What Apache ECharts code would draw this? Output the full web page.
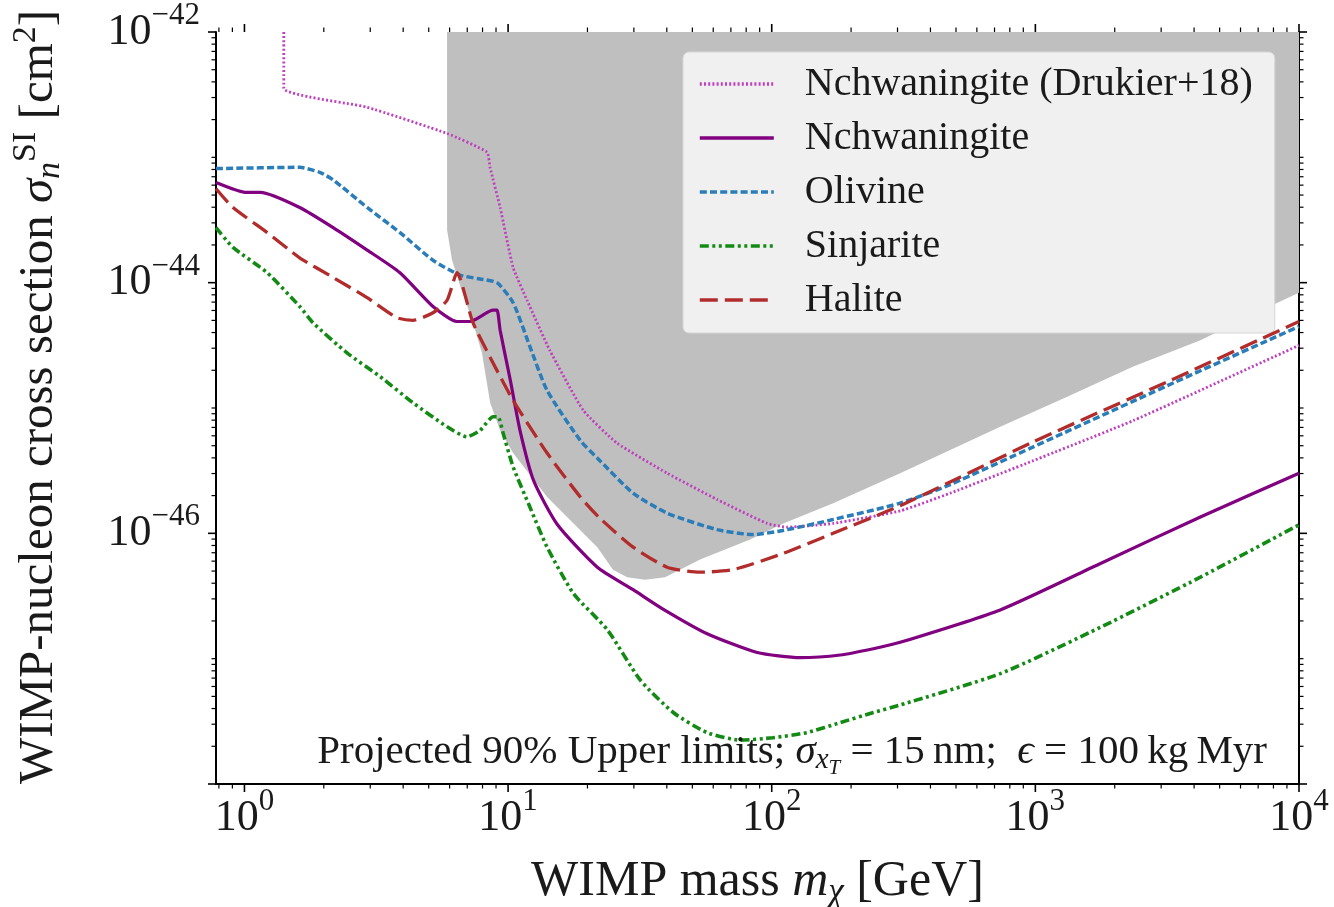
<!DOCTYPE html>
<html>
<head>
<meta charset="utf-8">
<script src="https://cdn.jsdelivr.net/npm/echarts/dist/echarts.min.js"></script>
<style>html,body{margin:0;padding:0;background:#fff}#c{width:1334px;height:907px}</style>
</head>
<body>
<div id="c"></div>
<script>
// ---------------- data ----------------
const xMin = 0.78, xMax = 10000;
const yMin = 1e-48, yMax = 1e-42;
const xMajorTicks = [1, 10, 100, 1000, 10000];
const yMajorTicks = [1e-48, 1e-46, 1e-44, 1e-42];

const seriesNames = ['Nchwaningite (Drukier+18)', 'Nchwaningite', 'Olivine', 'Sinjarite', 'Halite'];

// grey excluded region (lower boundary; filled up to the top of the plot)
const greyMass  = [5.87, 5.87, 6.13, 6.57, 7.36, 7.96, 8.55, 9.33, 10.45, 14.06, 21.8, 25.0, 28.3, 33.1, 39.4, 53.5, 82.8, 110.6, 171, 307, 736, 1321, 2353, 4227, 8280, 10000];
const greySigma = [1e-42, 2.63e-44, 1.51e-44, 9.55e-45, 4.79e-45, 2.75e-45, 1.10e-45, 6.61e-46, 4.37e-46, 1.95e-46, 7.76e-47, 5.13e-47, 4.47e-47, 4.27e-47, 4.47e-47, 6.17e-47, 8.91e-47, 1.20e-46, 1.74e-46, 3.02e-46, 7.08e-46, 1.23e-45, 2.14e-45, 3.47e-45, 6.92e-45, 8.32e-45];

const drukMass  = [1.41, 1.41, 2.92, 5.87, 8.32, 8.54, 9.33, 10.45, 11.8, 14.4, 19.3, 25.9, 40.1, 62.1, 96.1, 114.6, 171, 307, 475, 982, 2353, 10000];
const drukSigma = [1e-42, 3.55e-43, 2.51e-43, 1.55e-43, 1.10e-43, 8.32e-44, 3.98e-44, 1.32e-44, 7.24e-45, 2.88e-45, 9.55e-46, 5.25e-46, 3.02e-46, 1.86e-46, 1.20e-46, 1.12e-46, 1.20e-46, 1.51e-46, 2.09e-46, 3.80e-46, 7.94e-46, 3.16e-45];

const nchMass  = [0.78, 1.02, 1.15, 1.62, 2.17, 2.92, 3.89, 5.19, 6.40, 7.17, 8.77, 9.08, 9.33, 10.2, 11.1, 12.5, 15.4, 21.8, 29.8, 38.4, 56.9, 88.1, 128, 182, 243, 307, 736, 1766, 4227, 10000];
const nchSigma = [6.31e-44, 5.25e-44, 5.25e-44, 3.98e-44, 2.75e-44, 1.82e-44, 1.20e-44, 6.46e-45, 4.90e-45, 4.90e-45, 6.03e-45, 6.03e-45, 4.17e-45, 1.66e-45, 6.61e-46, 2.63e-46, 1.17e-46, 5.37e-47, 3.55e-47, 2.51e-47, 1.58e-47, 1.12e-47, 1.02e-47, 1.07e-47, 1.20e-47, 1.35e-47, 2.45e-47, 5.75e-47, 1.35e-46, 3.02e-46];

const olivMass  = [0.78, 1.62, 1.93, 2.17, 2.92, 3.89, 5.19, 6.57, 7.83, 9.08, 10.45, 12.1, 14.06, 18.8, 22.3, 29.8, 40.1, 62.1, 85.1, 114.6, 171, 307, 475, 982, 3170, 10000];
const olivSigma = [8.13e-44, 8.32e-44, 7.59e-44, 6.61e-44, 3.98e-44, 2.51e-44, 1.51e-44, 1.15e-44, 1.07e-44, 1.00e-44, 6.92e-45, 3.09e-45, 1.38e-45, 5.50e-46, 3.80e-46, 2.09e-46, 1.45e-46, 1.07e-46, 9.77e-47, 1.07e-46, 1.29e-46, 1.74e-46, 2.45e-46, 4.90e-46, 1.51e-45, 4.47e-45];

const sinjMass  = [0.78, 0.905, 1.22, 1.62, 1.82, 2.45, 3.27, 4.36, 5.87, 6.98, 7.82, 8.77, 9.16, 9.57, 10.45, 12.1, 14.06, 17.7, 23.8, 31.7, 42.3, 56.9, 75.9, 101, 136, 182, 243, 307, 736, 1766, 4227, 10000];
const sinjSigma = [2.75e-44, 1.91e-44, 1.20e-44, 6.46e-45, 4.79e-45, 2.75e-45, 1.78e-45, 1.10e-45, 7.08e-46, 5.89e-46, 6.61e-46, 8.51e-46, 8.51e-46, 6.31e-46, 3.39e-46, 1.62e-46, 7.76e-47, 3.31e-47, 1.70e-47, 6.76e-48, 3.72e-48, 2.57e-48, 2.24e-48, 2.34e-48, 2.57e-48, 3.09e-48, 3.72e-48, 4.27e-48, 7.59e-48, 1.78e-47, 4.47e-47, 1.17e-46];

const halMass  = [0.78, 0.905, 1.22, 1.62, 2.17, 2.92, 3.79, 4.36, 5.19, 5.87, 6.40, 7.36, 8.77, 10.45, 14.06, 18.8, 22.3, 29.8, 40.1, 53.5, 71.4, 110.6, 171, 307, 475, 982, 3170, 10000];
const halSigma = [5.62e-44, 3.98e-44, 2.51e-44, 1.58e-44, 1.10e-44, 7.59e-45, 5.25e-45, 5.01e-45, 5.75e-45, 7.24e-45, 1.20e-44, 4.79e-45, 2.29e-45, 1.15e-45, 4.37e-46, 1.95e-46, 1.32e-46, 7.76e-47, 5.37e-47, 4.90e-47, 5.13e-47, 6.92e-47, 1.00e-46, 1.66e-46, 2.57e-46, 5.37e-46, 1.62e-45, 4.90e-45];

// ---------------- helpers ----------------
const pairs = (xs, ys) => xs.map((x, i) => [x, ys[i]]);
const fam = "'Liberation Serif', 'DejaVu Serif', serif";
const ink = '#1a1a1a';

const xMinorTicks = [];
for (let d = -1; d <= 3; d++) for (let k = 2; k <= 9; k++) {
  const v = k * Math.pow(10, d);
  if (v >= xMin && v <= xMax) xMinorTicks.push(v);
}
const yMinorTicks = [];
for (let d = -48; d <= -43; d++) for (let k = (d % 2 === 0 ? 2 : 1); k <= 9; k++) {
  yMinorTicks.push(k * Math.pow(10, d));
}

const powLabel = v => {
  if (!(v > 0)) return '';
  const e = Math.round(Math.log10(v));
  if (!isFinite(e)) return '';
  return '{n|10}{s|' + (e < 0 ? '\u2212' : '') + Math.abs(e) + '}';
};
const labelRich = {
  n: { fontFamily: fam, fontSize: 44, color: ink, lineHeight: 44, fontWeight: 'normal' },
  s: { fontFamily: fam, fontSize: 31, color: ink, lineHeight: 31, fontWeight: 'normal', padding: [0, 0, 32, 0] }
};
const nameRich = (size) => ({
  t: { fontFamily: fam, fontSize: size, color: ink, fontWeight: 'normal' },
  i: { fontFamily: fam, fontSize: size, color: ink, fontWeight: 'normal', fontStyle: 'italic' },
  sb: { fontFamily: fam, fontSize: Math.round(size * 0.7), color: ink, fontWeight: 'normal', fontStyle: 'italic', padding: [Math.round(size * 0.42), 0, 0, 0] },
  sp: { fontFamily: fam, fontSize: Math.round(size * 0.7), color: ink, fontWeight: 'normal', padding: [0, 0, Math.round(size * 0.56), 0] },
  ssb: { fontFamily: fam, fontSize: Math.round(size * 0.5), color: ink, fontWeight: 'normal', fontStyle: 'italic', padding: [Math.round(size * 0.8), 0, 0, 0] }
});

const chart = echarts.init(document.getElementById('c'), null, { renderer: 'canvas' });

const frameLine = { show: true, lineStyle: { color: '#000', width: 2 } };

const option = {
  backgroundColor: '#fff',
  animation: false,
  grid: { left: 216, right: 35, top: 32, bottom: 123, containLabel: false, outerBoundsMode: 'none' },
  xAxis: [
    {
      type: 'log', logBase: 10, min: xMin, max: xMax, position: 'bottom',
      axisLine: frameLine, axisTick: { show: false }, splitLine: { show: false },
      axisLabel: { show: true, margin: 12, showMinLabel: false, formatter: powLabel, rich: labelRich },
      name: '{t|WIMP mass }{i|m}{sb|\u03c7}{t| [GeV]}', nameLocation: 'middle', nameGap: 70,
      nameMoveOverlap: false,
      nameTextStyle: { rich: nameRich(50), fontFamily: fam, fontSize: 50, color: ink, fontWeight: 'normal' }
    },
    {
      type: 'log', logBase: 10, min: xMin, max: xMax, position: 'top',
      axisLine: frameLine, axisTick: { show: false }, splitLine: { show: false }, axisLabel: { show: false }
    }
  ],
  yAxis: [
    {
      type: 'log', logBase: 10, min: yMin, max: yMax, interval: 2, position: 'left',
      axisLine: frameLine, axisTick: { show: false }, splitLine: { show: false },
      axisLabel: { show: true, margin: 16, formatter: powLabel, rich: labelRich },
      name: '{t|WIMP-nucleon cross section }{i|\u03c3}{sb|n}{sp|SI}{t| [cm}{sp|2}{t|]}',
      nameLocation: 'middle', nameGap: 146, nameRotate: 90, nameMoveOverlap: false,
      nameTextStyle: { rich: nameRich(49), fontFamily: fam, fontSize: 49, color: ink, fontWeight: 'normal', padding: [0, 0, 0, 22] }
    },
    {
      type: 'log', logBase: 10, min: yMin, max: yMax, interval: 2, position: 'right',
      axisLine: frameLine, axisTick: { show: false }, splitLine: { show: false }, axisLabel: { show: false }
    }
  ],
  legend: {
    data: seriesNames,
    orient: 'vertical', left: 683, top: 52,
    itemWidth: 74, itemHeight: 14, itemGap: 14,
    padding: [12, 22, 13, 15],
    backgroundColor: '#f0f0f0', borderColor: '#d6d6d6', borderWidth: 1, borderRadius: 6,
    selectedMode: false,
    itemStyle: { opacity: 0, color: 'rgba(0,0,0,0)', borderWidth: 0 },
    lineStyle: { width: 3.6 },
    textStyle: { fontFamily: fam, fontSize: 40, color: ink, lineHeight: 40, padding: [0, 0, 0, 26] }
  },
  title: {
    text: '{t|Projected 90% Upper limits; }{i|\u03c3}{sb|x}{ssb|T}{t| = 15\u2009nm;  }{i|\u03f5}{t| = 100\u2009kg\u2009Myr}',
    right: 62, top: 720,
    textStyle: { rich: nameRich(41), fontFamily: fam, fontSize: 41, color: ink, fontWeight: 'normal' }
  },
  series: [
    {
      type: 'custom', silent: true, z: 1, clip: true,
      data: [[greyMass[0], greySigma[0]]],
      renderItem: function (params, api) {
        const pts = greyMass.map((m, i) => api.coord([m, greySigma[i]]));
        pts.push(api.coord([xMax, yMax]));
        pts.push(api.coord([greyMass[0], yMax]));
        return { type: 'polygon', shape: { points: pts }, style: { fill: '#bfbfbf', stroke: null } };
      }
    },
    {
      name: seriesNames[0], type: 'line', data: pairs(drukMass, drukSigma), symbol: 'none', smooth: 0.15, z: 3,
      lineStyle: { color: '#bf3fbf', width: 2.8, type: [2, 2.2] }, itemStyle: { color: '#bf3fbf' }
    },
    {
      name: seriesNames[1], type: 'line', data: pairs(nchMass, nchSigma), symbol: 'none', smooth: 0.2, z: 3,
      lineStyle: { color: '#800080', width: 3.2, type: 'solid' }, itemStyle: { color: '#800080' }
    },
    {
      name: seriesNames[2], type: 'line', data: pairs(olivMass, olivSigma), symbol: 'none', smooth: 0.2, z: 3,
      lineStyle: { color: '#2a7db8', width: 3.5, type: [7, 3.2] }, itemStyle: { color: '#2a7db8' }
    },
    {
      name: seriesNames[3], type: 'line', data: pairs(sinjMass, sinjSigma), symbol: 'none', smooth: 0.2, z: 3,
      lineStyle: { color: '#138a13', width: 3.6, type: [9, 3.5, 3, 3.5, 3, 3.5] }, itemStyle: { color: '#138a13' }
    },
    {
      name: seriesNames[4], type: 'line', data: pairs(halMass, halSigma), symbol: 'none', smooth: 0.2, z: 4,
      lineStyle: { color: '#b22c2c', width: 3.3, type: [18, 7] }, itemStyle: { color: '#b22c2c' }
    },
    {
      type: 'custom', silent: true, z: 10, clip: false,
      data: [[1, 1e-45]],
      renderItem: function (params, api) {
        const cs = params.coordSys;
        const L = cs.x, R = cs.x + cs.width, T = cs.y, B = cs.y + cs.height;
        const kids = [];
        const seg = (x1, y1, x2, y2, w) => kids.push({ type: 'line', shape: { x1, y1, x2, y2 }, style: { stroke: '#000', lineWidth: w } });
        xMajorTicks.forEach(v => { const x = api.coord([v, 1e-45])[0]; seg(x, B, x, B + 8, 1.6); seg(x, T, x, T - 8, 1.6); });
        xMinorTicks.forEach(v => { const x = api.coord([v, 1e-45])[0]; seg(x, B, x, B + 4.5, 1.2); seg(x, T, x, T - 4.5, 1.2); });
        yMajorTicks.forEach(v => { const y = api.coord([1, v])[1]; seg(L, y, L - 8, y, 1.6); seg(R, y, R + 8, y, 1.6); });
        yMinorTicks.forEach(v => { const y = api.coord([1, v])[1]; seg(L, y, L - 4.5, y, 1.2); seg(R, y, R + 4.5, y, 1.2); });
        return { type: 'group', children: kids };
      }
    }
  ]
};
chart.setOption(option);
</script>
</body>
</html>
